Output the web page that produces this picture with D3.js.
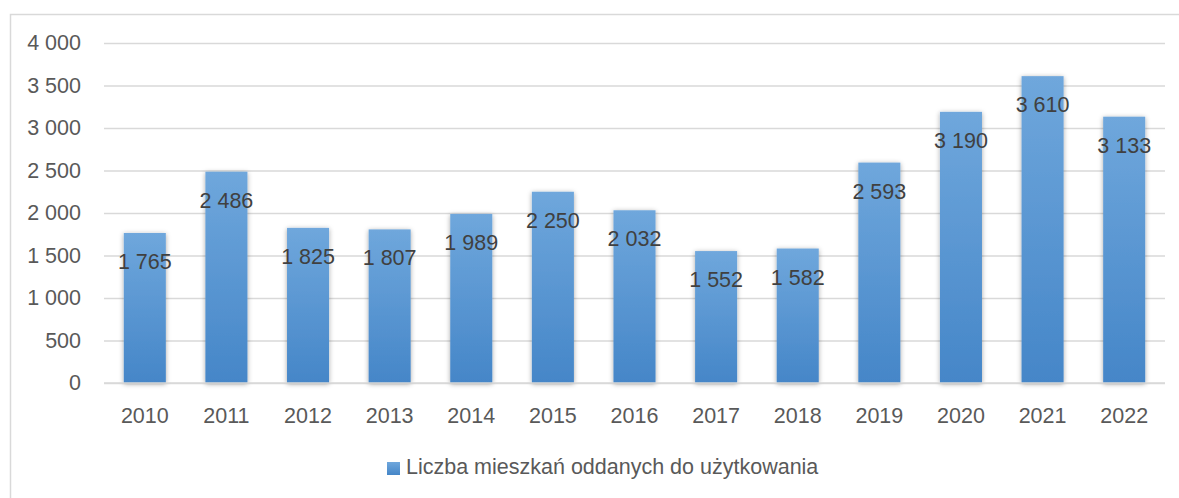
<!DOCTYPE html>
<html>
<head>
<meta charset="utf-8">
<script src="https://cdn.jsdelivr.net/npm/d3@7"></script>
<style>
  html, body { margin: 0; padding: 0; background: #fff; }
  svg { display: block; }
</style>
</head>
<body>
<svg id="chart" width="1179" height="498"></svg>
<script>
const years = ["2010","2011","2012","2013","2014","2015","2016","2017","2018","2019","2020","2021","2022"];
const values = [1765, 2486, 1825, 1807, 1989, 2250, 2032, 1552, 1582, 2593, 3190, 3610, 3133];
const yTicks = [0, 500, 1000, 1500, 2000, 2500, 3000, 3500, 4000];
const seriesName = "Liczba mieszkań oddanych do użytkowania";

const W = 1179, H = 498;
const svg = d3.select("#chart");
const FONT = "'Liberation Sans', Arial, sans-serif";
const FS = 21.5;

const fmt = v => d3.format(",")(v).replace(/,/g, " ");

// outer border
svg.append("path")
  .attr("d", `M10.5,${H} L10.5,14.5 L${W},14.5`)
  .attr("fill", "none").attr("stroke", "#d9d9d9").attr("stroke-width", 1.5);

const defs = svg.append("defs");
const grad = defs.append("linearGradient").attr("id", "barGrad")
  .attr("x1", 0).attr("y1", 0).attr("x2", 0).attr("y2", 1);
grad.append("stop").attr("offset", "0%").attr("stop-color", "#6fa7dc");
grad.append("stop").attr("offset", "100%").attr("stop-color", "#4586c8");

const filt = defs.append("filter").attr("id", "shadow")
  .attr("x", "-30%").attr("y", "-10%").attr("width", "160%").attr("height", "120%");
filt.append("feDropShadow").attr("dx", 0).attr("dy", 1).attr("stdDeviation", 2.5)
  .attr("flood-color", "#000").attr("flood-opacity", 0.35);

const x = d3.scaleBand().domain(years).range([104, 1165]).paddingInner(0.485).paddingOuter(0.2425);
const y = d3.scaleLinear().domain([0, 4000]).range([383, 43]);

// gridlines
const grid = svg.append("g").attr("class", "grid")
  .attr("transform", "translate(104,0)")
  .call(d3.axisLeft(y).tickValues(yTicks).tickSize(-(1165 - 104)).tickFormat(""));
grid.select(".domain").remove();
grid.selectAll("line").attr("stroke", "#d9d9d9").attr("stroke-width", 1.5);

// y tick labels
const yAxis = svg.append("g")
  .attr("transform", "translate(81,0)")
  .call(d3.axisLeft(y).tickValues(yTicks).tickSize(0).tickPadding(0).tickFormat(fmt));
yAxis.select(".domain").remove();
yAxis.selectAll("text").attr("font-family", FONT).attr("font-size", FS).attr("fill", "#595959");

// bars
svg.append("g").selectAll("rect").data(values).join("rect")
  .attr("x", (d, i) => x(years[i]))
  .attr("width", x.bandwidth())
  .attr("y", d => y(d))
  .attr("height", d => y(0) - y(d))
  .attr("fill", "url(#barGrad)")
  .attr("filter", "url(#shadow)");

// x axis
const xAxis = svg.append("g").attr("transform", `translate(0,${y(0)})`)
  .call(d3.axisBottom(x).tickSize(0).tickPadding(25));
xAxis.select(".domain").attr("stroke", "#d9d9d9").attr("stroke-width", 1.5)
  .attr("d", `M104,0H1165`);
xAxis.selectAll("text").attr("font-family", FONT).attr("font-size", FS).attr("fill", "#595959");

// data labels
svg.append("g").selectAll("text").data(values).join("text")
  .attr("x", (d, i) => x(years[i]) + x.bandwidth() / 2)
  .attr("y", d => y(d) + 36)
  .attr("text-anchor", "middle")
  .attr("font-family", FONT).attr("font-size", FS).attr("fill", "#404040")
  .text(fmt);

// legend
const lg = svg.append("g");
lg.append("rect").attr("x", 387).attr("y", 462).attr("width", 13).attr("height", 13)
  .attr("fill", "url(#barGrad)");
lg.append("text").attr("x", 406).attr("y", 474)
  .attr("font-family", FONT).attr("font-size", FS).attr("fill", "#595959")
  .text(seriesName);
</script>
</body>
</html>
